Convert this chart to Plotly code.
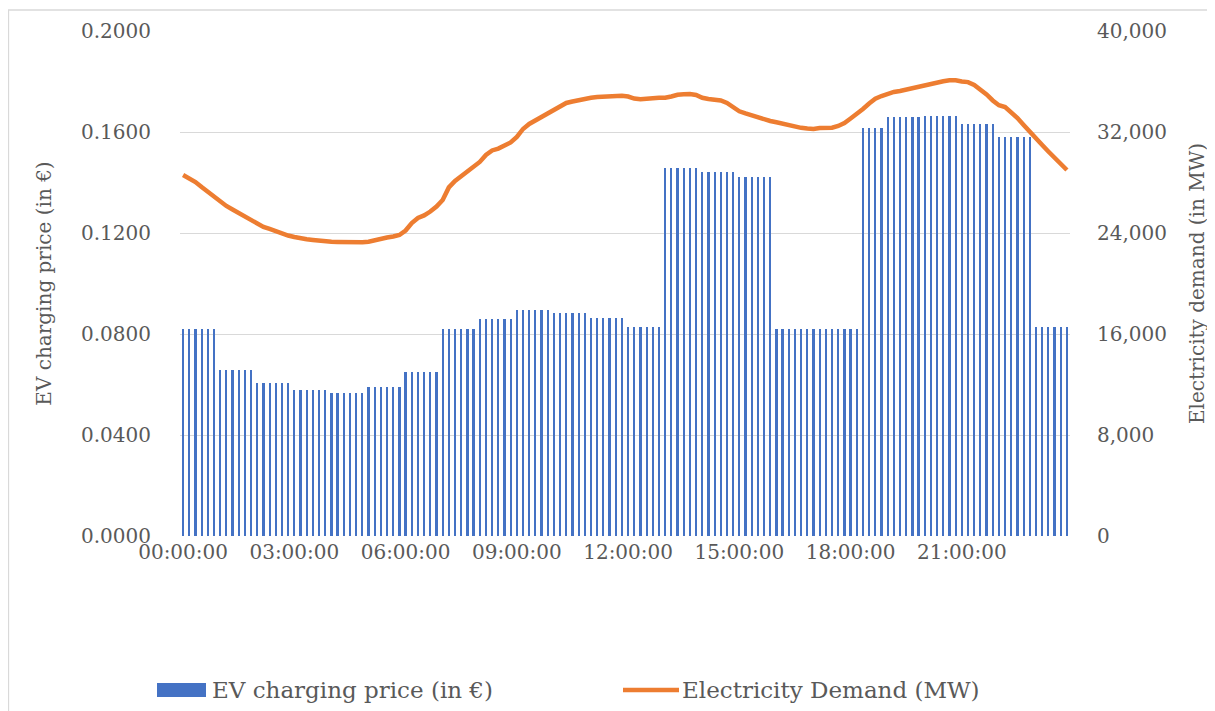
import plotly.graph_objects as go

# 10-minute slots over one day (144 categories)
slot_labels = [f"{h:02d}:{m:02d}:00" for h in range(24) for m in range(0, 60, 10)]
tick_labels = ["00:00:00", "03:00:00", "06:00:00", "09:00:00",
               "12:00:00", "15:00:00", "18:00:00", "21:00:00"]

# EV charging price (in €), one row per hour, six 10-min values each
ev_price = [
    0.0820, 0.0820, 0.0820, 0.0820, 0.0820, 0.0820,
    0.0657, 0.0657, 0.0657, 0.0657, 0.0657, 0.0657,
    0.0605, 0.0605, 0.0605, 0.0605, 0.0605, 0.0605,
    0.0578, 0.0578, 0.0578, 0.0578, 0.0578, 0.0578,
    0.0565, 0.0565, 0.0565, 0.0565, 0.0565, 0.0565,
    0.0589, 0.0589, 0.0589, 0.0589, 0.0589, 0.0589,
    0.0650, 0.0650, 0.0650, 0.0650, 0.0650, 0.0650,
    0.0819, 0.0819, 0.0819, 0.0819, 0.0819, 0.0819,
    0.0861, 0.0861, 0.0861, 0.0861, 0.0861, 0.0861,
    0.0895, 0.0895, 0.0895, 0.0895, 0.0895, 0.0895,
    0.0885, 0.0885, 0.0885, 0.0885, 0.0885, 0.0885,
    0.0863, 0.0863, 0.0863, 0.0863, 0.0863, 0.0863,
    0.0828, 0.0828, 0.0828, 0.0828, 0.0828, 0.0828,
    0.1457, 0.1457, 0.1457, 0.1457, 0.1457, 0.1457,
    0.1442, 0.1442, 0.1442, 0.1442, 0.1442, 0.1442,
    0.1420, 0.1420, 0.1420, 0.1420, 0.1420, 0.1420,
    0.0820, 0.0820, 0.0820, 0.0820, 0.0820, 0.0820,
    0.0820, 0.0820, 0.0820, 0.0820, 0.0820, 0.0820,
    0.0820, 0.0820, 0.1616, 0.1616, 0.1616, 0.1616,
    0.1658, 0.1658, 0.1658, 0.1658, 0.1658, 0.1658,
    0.1665, 0.1665, 0.1665, 0.1665, 0.1665, 0.1665,
    0.1632, 0.1632, 0.1632, 0.1632, 0.1632, 0.1632,
    0.1579, 0.1579, 0.1579, 0.1579, 0.1579, 0.1579,
    0.0828, 0.0828, 0.0828, 0.0828, 0.0828, 0.0828,
]

# Electricity demand (MW), 10-min values
demand_mw = [
    28600, 28360, 28040, 27640, 27250, 26890,
    26540, 26140, 25860, 25590, 25270, 24990,
    24710, 24480, 24320, 24120, 23960, 23800,
    23680, 23570, 23510, 23450, 23380, 23340,
    23300, 23290, 23270, 23260, 23260, 23270,
    23310, 23450, 23570, 23640, 23720, 23840,
    24200, 24790, 25190, 25390, 25700, 26100,
    26620, 27610, 28120, 28520, 28870, 29270,
    29630, 30180, 30540, 30690, 30890, 31170,
    31610, 32240, 32640, 32910, 33190, 33510,
    33780, 34020, 34300, 34420, 34540, 34640,
    34710, 34770, 34810, 34840, 34850, 34870,
    34810, 34650, 34590, 34590, 34670, 34710,
    34710, 34810, 34950, 34990, 35010, 34930,
    34710, 34620, 34540, 34500, 34300, 33940,
    33640, 33470, 33310, 33130, 32980, 32870,
    32770, 32650, 32530, 32420, 32330, 32270,
    32240, 32320, 32340, 32340, 32480, 32710,
    33070, 33430, 33820, 34260, 34630, 34850,
    35050, 35170, 35250, 35370, 35490, 35610,
    35720, 35840, 35920, 36020, 36100, 36100,
    36000, 35950, 35720, 35370, 34970, 34500,
    34120, 33980, 33590, 33110, 32560, 32000,
    31490, 30970, 30460, 29980, 29510, 28990,
]

x_idx = list(range(len(slot_labels)))
tick_idx = [slot_labels.index(t) for t in tick_labels]

FONT = "DejaVu Serif"
TXT = "#595959"
GRID = "#D9D9D9"
BLUE = "#4472C4"
ORANGE = "#ED7D31"

fig = go.Figure()
fig.add_trace(go.Bar(
    x=x_idx, y=ev_price, name="EV charging price (in €)",
    marker=dict(color=BLUE, line=dict(width=0)), width=0.36,
    yaxis="y", showlegend=False,
))
fig.add_trace(go.Scatter(
    x=x_idx, y=demand_mw, name="Electricity Demand (MW)", mode="lines",
    line=dict(color=ORANGE, width=4.5, shape="linear"),
    yaxis="y2", showlegend=False,
))

# page has an 8px body margin; work in page pixels, convert to figure pixels
OFF = 8
W, H = 1215 - OFF, 711 - OFF
L, T = 180 - OFF, 31 - OFF
R = W - (1070 - OFF)
B = H - (536 - OFF)
pw, ph = W - L - R, H - T - B

def px(xp):  # page pixel x -> paper
    return (xp - OFF - L) / pw

def py(yp):  # page pixel y -> paper
    return (H - B - (yp - OFF)) / ph

fig.update_layout(
    width=W, height=H,
    margin=dict(l=L, r=R, t=T, b=B, autoexpand=False),
    paper_bgcolor="white", plot_bgcolor="white",
    font=dict(family=FONT, size=20, color=TXT),
    bargap=0.0,
    xaxis=dict(
        range=[-0.5, len(slot_labels) - 0.5],
        tickmode="array", tickvals=tick_idx, ticktext=tick_labels,
        showgrid=False, zeroline=False, showline=False, ticks="",
        tickfont=dict(size=20, color=TXT), ticklabelstandoff=2,
    ),
    yaxis=dict(
        range=[0, 0.2], dtick=0.04, tick0=0, tickformat=".4f",
        showgrid=True, gridcolor=GRID, gridwidth=1.3,
        zeroline=False, showline=False, ticks="",
        tickfont=dict(size=20, color=TXT), ticklabelstandoff=28,
        title=dict(text="EV charging price (in €)", standoff=24,
                   font=dict(size=20, color=TXT)),
    ),
    yaxis2=dict(
        range=[0, 40000], dtick=8000, tick0=0, tickformat=",",
        overlaying="y", side="right",
        showgrid=False, zeroline=False, showline=False, ticks="",
        tickfont=dict(size=20, color=TXT), ticklabelstandoff=26,
        title=dict(text="Electricity demand (in MW)", standoff=24,
                   font=dict(size=20, color=TXT)),
    ),
)

# chart-area border (top and left edges visible in the reference)
fig.add_shape(type="line", xref="paper", yref="paper",
              x0=px(8), x1=px(1215), y0=py(10), y1=py(10),
              line=dict(color=GRID, width=1.3))
fig.add_shape(type="line", xref="paper", yref="paper",
              x0=px(8.5), x1=px(8.5), y0=py(10), y1=py(711),
              line=dict(color=GRID, width=1.3))

# custom legend
fig.add_shape(type="rect", xref="paper", yref="paper",
              x0=px(157), x1=px(206), y0=py(683), y1=py(697),
              fillcolor=BLUE, line=dict(width=0))
fig.add_annotation(xref="paper", yref="paper", x=px(210), y=py(690),
                   text="EV charging price (in €)", showarrow=False,
                   xanchor="left", yanchor="middle",
                   font=dict(size=23, color=TXT))
fig.add_shape(type="line", xref="paper", yref="paper",
              x0=px(623), x1=px(679), y0=py(690), y1=py(690),
              line=dict(color=ORANGE, width=4.5))
fig.add_annotation(xref="paper", yref="paper", x=px(680), y=py(690),
                   text="Electricity Demand (MW)", showarrow=False,
                   xanchor="left", yanchor="middle",
                   font=dict(size=23, color=TXT))

fig.write_html("out.html")
